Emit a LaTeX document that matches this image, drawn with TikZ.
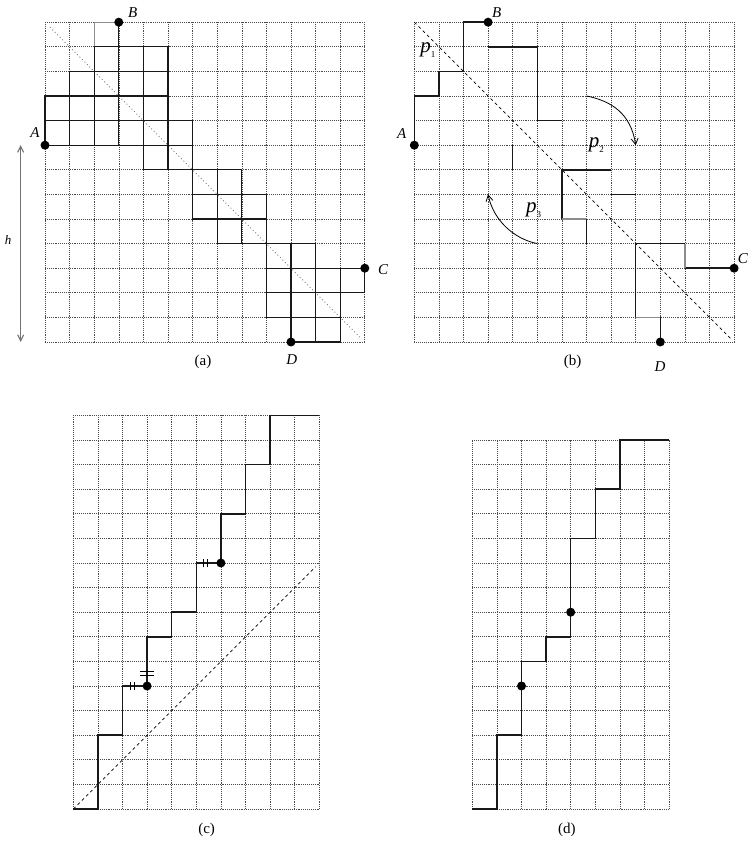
\documentclass[tikz,border=0pt]{standalone}
\usepackage{fontspec}
\setmainfont{Liberation Serif}
\usetikzlibrary{arrows.meta}
\begin{document}
\begin{tikzpicture}[x=1pt,y=1pt,
  gridline/.style={black!70, line width=0.6pt, dash pattern=on 0.8pt off 1.1pt},
  pathline/.style={line width=1.5pt, black!90},
  cellline/.style={line width=1.1pt, black!90},
  faint/.style={line width=1.3pt, black!45},
  diagdot/.style={black!55, line width=0.9pt, dash pattern=on 0.9pt off 2.6pt},
  diagdash/.style={black, line width=0.7pt, dash pattern=on 3pt off 3pt},
  dot/.style={circle, fill=black, inner sep=0pt, minimum size=9pt},
  lab/.style={font=\fontsize{15}{18}\selectfont\itshape, inner sep=0pt},
  captxt/.style={font=\fontsize{15}{18}\selectfont, inner sep=0pt},
  plab/.style={font=\fontsize{21}{24}\selectfont\itshape, inner sep=0pt},
  curvearrow/.style={line width=0.8pt, -{Straight Barb[length=6pt,width=7pt]}},
  harrow/.style={black!55, line width=1.1pt, {Straight Barb[length=6pt,width=6pt]}-{Straight Barb[length=6pt,width=6pt]}},
  tick/.style={line width=0.7pt, black}
]
\useasboundingbox (0,0) rectangle (748,843);

% ---------------- panel (a)
\begin{scope}[shift={(45pt,501pt)}, x=24.6pt, y=24.6pt]
  \draw[gridline, step=1] (0,0) grid (13,13);
  \draw[diagdot] (0.2,12.8) -- (12.8,0.2);
  \foreach \c/\r in {2/11,3/11,4/11,
                     1/10,2/10,3/10,4/10,
                     0/9,1/9,2/9,3/9,4/9,
                     0/8,1/8,2/8,3/8,4/8,5/8,
                     4/7,5/7,
                     6/6,7/6,
                     6/5,7/5,8/5,
                     7/4,8/4,
                     9/3,10/3,
                     9/2,10/2,11/2,12/2,
                     9/1,10/1,11/1,
                     10/0,11/0}
    \draw[cellline] (\c,\r) rectangle +(1,1);
  \draw[faint] (3,13) -- (2,13) -- (2,12);
  \draw[cellline] (2,12) -- (3,12) -- (3,13);
  \node[dot] (aA) at (0,8) {};
  \node[dot] (aB) at (3,13) {};
  \node[dot] (aC) at (13,3) {};
  \node[dot] (aD) at (10,0) {};
  \node[lab] (aAl) at (-0.41,8.5) {A};
  \node[lab] (aBl) at (3.57,13.39) {B};
  \node[lab] (aCl) at (13.74,2.95) {C};
  \node[lab] (aDl) at (10.03,-0.73) {D};
  \coordinate (ht) at (-0.99,8);
  \coordinate (hb) at (-0.99,0);
  \draw[harrow] (ht) -- (hb);
  \node[font=\fontsize{13}{15}\selectfont\itshape, inner sep=0pt] (hl) at (-1.5,4.15) {h};
  \node[captxt] (capa) at (6.42,-0.81) {(a)};
\end{scope}

% ---------------- panel (b)
\begin{scope}[shift={(414.3pt,501pt)}, x=24.6pt, y=24.6pt]
  \draw[gridline, step=1] (0,0) grid (13,13);
  \draw[diagdash] (0,13) -- (12.85,0.15);
  \draw[pathline] (0,8) -- (0,10) -- (1,10) -- (1,11) -- (2,11) -- (2,13) -- (3,13);
  \draw[pathline] (3,12) -- (5,12) -- (5,9) -- (6,9);
  \draw[pathline] (4,8) -- (4,7);
  \draw[pathline] (8,7) -- (6,7) -- (6,5);
  \draw[faint] (6,5) -- (7,5);
  \draw[pathline] (7,5) -- (7,4);
  \draw[pathline] (8,6) -- (9,6);
  \draw[pathline] (13,3) -- (11,3);
  \draw[faint] (11,3) -- (11,4);
  \draw[pathline] (11,4) -- (9,4) -- (9,1);
  \draw[faint] (9,1) -- (10,1);
  \draw[pathline] (10,1) -- (10,0);
  \node[dot] (bA) at (0,8) {};
  \node[dot] (bB) at (3,13) {};
  \node[dot] (bC) at (13,3) {};
  \node[dot] (bD) at (10,0) {};
  \node[lab] (bAl) at (-0.51,8.48) {A};
  \node[lab] (bBl) at (3.35,13.39) {B};
  \node[lab] (bCl) at (13.36,3.38) {C};
  \node[lab] (bDl) at (9.99,-1.0) {D};
  \node[plab] (p1) at (0.55,11.85) {p\raisebox{-5pt}{\fontsize{9}{9}\selectfont\upshape 1}};
  \node[plab] (p2) at (7.4,8.0) {p\raisebox{-5pt}{\fontsize{9}{9}\selectfont\upshape 2}};
  \node[plab] (p3) at (4.85,5.35) {p\raisebox{-5pt}{\fontsize{9}{9}\selectfont\upshape 3}};
  \coordinate (r1s) at (7,10);
  \coordinate (r1e) at (9,8);
  \coordinate (r2s) at (5,4);
  \coordinate (r2e) at (3,6);
  \draw[curvearrow] (r1s) .. controls (8,9.8) and (8.8,9.3) .. (r1e);
  \draw[curvearrow] (r2s) .. controls (4,4.2) and (3.2,5) .. (r2e);
  \node[captxt] (capb) at (6.44,-0.81) {(b)};
\end{scope}

% ---------------- panel (c)
\begin{scope}[shift={(73.3pt,34pt)}, x=24.6pt, y=24.6pt]
  \draw[gridline, step=1] (0,0) grid (10,16);
  \draw[diagdash] (0,0) -- (9.85,9.85);
  \draw[pathline] (0,0) -- (1,0) -- (1,3) -- (2,3) -- (2,5) -- (3,5) -- (3,7) -- (4,7)
     -- (4,8) -- (5,8) -- (5,10) -- (6,10) -- (6,12) -- (7,12) -- (7,14) -- (8,14)
     -- (8,16) -- (10,16);
  \node[dot] (c1) at (3,5) {};
  \node[dot] (c2) at (6,10) {};
  \draw[tick] (2.32,4.82) -- (2.32,5.18) (2.47,4.82) -- (2.47,5.18);
  \draw[tick] (2.7,5.42) -- (3.3,5.42) (2.7,5.6) -- (3.3,5.6);
  \draw[tick] (5.3,9.82) -- (5.3,10.18) (5.45,9.82) -- (5.45,10.18);
  \node[captxt] (capc) at (5.42,-0.85) {(c)};
\end{scope}

% ---------------- panel (d)
\begin{scope}[shift={(472.3pt,34pt)}, x=24.6pt, y=24.6pt]
  \draw[gridline, step=1] (0,0) grid (8,15);
  \draw[pathline] (0,0) -- (1,0) -- (1,3) -- (2,3) -- (2,6) -- (3,6) -- (3,7) -- (4,7)
     -- (4,11) -- (5,11) -- (5,13) -- (6,13) -- (6,15) -- (8,15);
  \node[dot] (d1) at (2,5) {};
  \node[dot] (d2) at (4,8) {};
  \node[captxt] (capd) at (3.84,-0.85) {(d)};
\end{scope}
\end{tikzpicture}
\end{document}
